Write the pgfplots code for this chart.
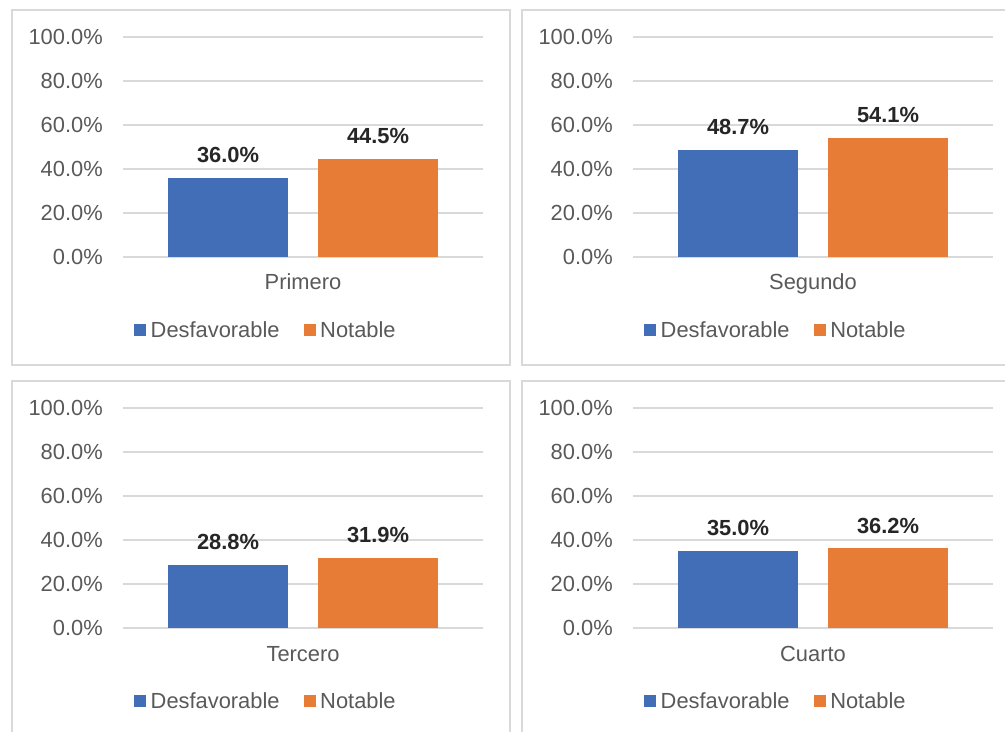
\documentclass[border=0pt]{standalone}
\usepackage{pgfplots}
\pgfplotsset{compat=1.18}
\usepackage{fontspec}
\setmainfont{Liberation Sans}
\definecolor{cblue}{HTML}{426DB7}
\definecolor{corange}{HTML}{E67C36}
\definecolor{tgray}{HTML}{595959}
\definecolor{gridc}{HTML}{D9D9D9}
\definecolor{labc}{HTML}{262626}
\pgfplotsset{
  sqlegend/.style={legend image code/.code={\fill[##1] (0pt,-3.75pt) rectangle (9pt,5.25pt);}},
  panel/.style={
    scale only axis, width=270pt, height=165pt,
    xmin=-1.5, xmax=1.5, ymin=0, ymax=100, enlargelimits=false,
    ybar=22.5pt, bar width=90pt,
    axis line style={draw=none}, major tick length=0pt,
    ymajorgrids, grid style={draw=gridc, line width=0.9pt},
    ytick={0,20,...,100}, xtick={0},
    /pgf/number format/assume math mode=true,
    yticklabel={\pgfmathprintnumber[fixed,fixed zerofill,precision=1]{\tick}\%},
    yticklabel style={anchor=east, inner sep=0pt, xshift=-15pt, text=tgray},
    xticklabel style={anchor=base, inner sep=0pt, yshift=-24.75pt, text=tgray},
    nodes near coords={\pgfmathprintnumber[fixed,fixed zerofill,precision=1]{\pgfplotspointmeta}\%},
    every node near coord/.append style={font=\bfseries, text=labc, anchor=south, inner sep=0pt, yshift=11pt},
    legend columns=2,
    legend style={at={(0.394,-0.336)}, anchor=center, draw=none, fill=none, inner sep=0pt,
      nodes={inner sep=0pt, text=tgray}, column sep=3.5pt,
      /tikz/every even column/.append style={column sep=18pt}},
  }
}
\begin{document}
\fontsize{16.4}{19.5}\selectfont
\begin{tikzpicture}
\path[use as bounding box] (0,0) rectangle (753.75pt,548.25pt);
\begin{scope}[x=0.75pt,y=-0.75pt,yshift=548.25pt]
\draw[gridc, line width=0.9pt] (12,10) rectangle (510,365);
\draw[gridc, line width=0.9pt] (522,10) rectangle (1015,365);
\draw[gridc, line width=0.9pt] (12,381) rectangle (510,745);
\draw[gridc, line width=0.9pt] (522,381) rectangle (1015,745);
\end{scope}

\begin{axis}[panel, at={(92.25pt,355.5pt)}, anchor=south west, xticklabels={Primero}]
\addplot[fill=cblue, draw=none, sqlegend] coordinates {(0,36.0)};
\addplot[fill=corange, draw=none, sqlegend] coordinates {(0,44.5)};
\legend{Desfavorable, Notable}
\end{axis}

\begin{axis}[panel, at={(474.75pt,355.5pt)}, anchor=south west, xticklabels={Segundo}]
\addplot[fill=cblue, draw=none, sqlegend] coordinates {(0,48.7)};
\addplot[fill=corange, draw=none, sqlegend] coordinates {(0,54.1)};
\legend{Desfavorable, Notable}
\end{axis}

\begin{axis}[panel, at={(92.25pt,77.25pt)}, anchor=south west, xticklabels={Tercero}]
\addplot[fill=cblue, draw=none, sqlegend] coordinates {(0,28.8)};
\addplot[fill=corange, draw=none, sqlegend] coordinates {(0,31.9)};
\legend{Desfavorable, Notable}
\end{axis}

\begin{axis}[panel, at={(474.75pt,77.25pt)}, anchor=south west, xticklabels={Cuarto}]
\addplot[fill=cblue, draw=none, sqlegend] coordinates {(0,35.0)};
\addplot[fill=corange, draw=none, sqlegend] coordinates {(0,36.2)};
\legend{Desfavorable, Notable}
\end{axis}
\end{tikzpicture}
\end{document}
